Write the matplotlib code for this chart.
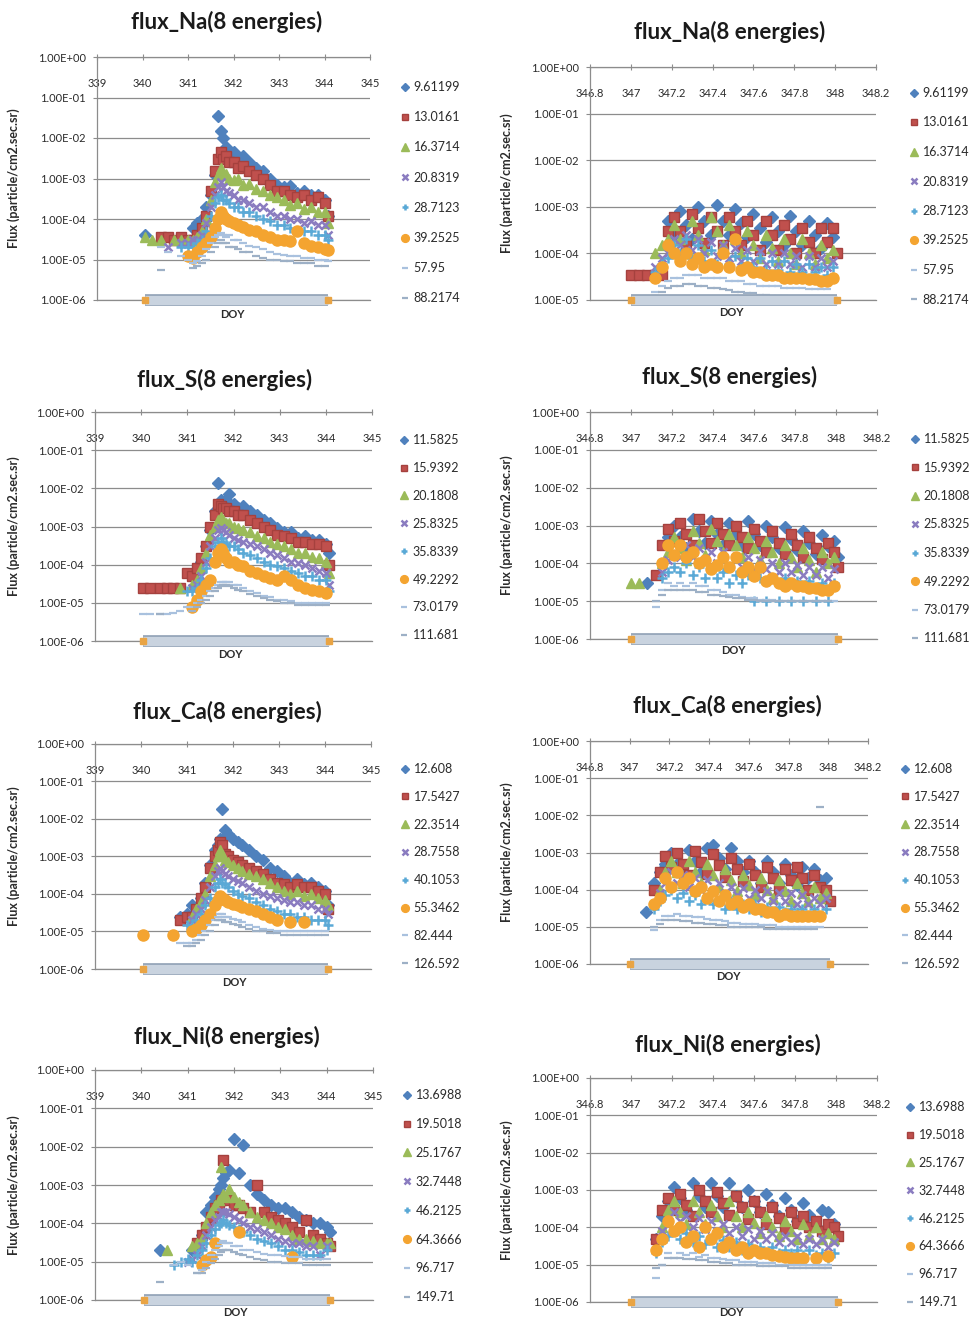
import numpy as np
import matplotlib
matplotlib.use("Agg")
import matplotlib.pyplot as plt
from matplotlib.ticker import FixedLocator, FuncFormatter, NullLocator

nan = float("nan")

# DOY sample times (left column: DOY 340-344, right column: DOY 347-348)
T_LEFT = [340.05, 340.2, 340.4, 340.55, 340.7, 340.85, 341.0, 341.1, 341.2, 341.3,
          341.4, 341.5, 341.6, 341.67, 341.72, 341.77, 341.83, 341.9, 342.0, 342.1,
          342.2, 342.35, 342.5, 342.65, 342.8, 342.95, 343.1, 343.25, 343.4, 343.55,
          343.7, 343.85, 344.0, 344.07]
T_RIGHT = [347.0, 347.04, 347.08, 347.12, 347.15, 347.18, 347.21, 347.24, 347.27, 347.3,
           347.33, 347.36, 347.39, 347.42, 347.45, 347.48, 347.51, 347.54, 347.57, 347.6,
           347.63, 347.66, 347.69, 347.72, 347.75, 347.78, 347.81, 347.84, 347.87, 347.9,
           347.93, 347.96, 347.99, 348.01]

XTICKS_LEFT = [339, 340, 341, 342, 343, 344, 345]
XTICKS_RIGHT = [346.8, 347.0, 347.2, 347.4, 347.6, 347.8, 348.0, 348.2]

NA_ENERGIES = ["9.61199", "13.0161", "16.3714", "20.8319", "28.7123", "39.2525", "57.95", "88.2174"]
S_ENERGIES = ["11.5825", "15.9392", "20.1808", "25.8325", "35.8339", "49.2292", "73.0179", "111.681"]
CA_ENERGIES = ["12.608", "17.5427", "22.3514", "28.7558", "40.1053", "55.3462", "82.444", "126.592"]
NI_ENERGIES = ["13.6988", "19.5018", "25.1767", "32.7448", "46.2125", "64.3666", "96.717", "149.71"]

# flux (particle/cm2.sec.sr), one list per energy channel
NA_LEFT = [
    [4e-5, nan, nan, nan, nan, nan, nan, 6e-5, 8e-5, 1e-4, 2e-4, 4e-4, 1.2e-3, 3.5e-2, 1.5e-2, 1e-2, 6e-3,
     4e-3, 4.5e-3, 3e-3, 3.5e-3, 2.5e-3, 1.8e-3, 1.5e-3, 1e-3, 7e-4, 6e-4, 6.5e-4, 4.5e-4, 5e-4, 4e-4, 4e-4, 3e-4, 1.2e-4],
    [nan, nan, 3.5e-5, 3.5e-5, 3e-5, 3.5e-5, 3e-5, 3e-5, 4e-5, 6e-5, 1.2e-4, 5e-4, 1.5e-3, 3e-3, 4.5e-3, 3e-3, 3.5e-3,
     2.5e-3, 2.5e-3, 1.8e-3, 2e-3, 1.5e-3, 1.2e-3, 1e-3, 7e-4, 5e-4, 5e-4, 4e-4, 3.5e-4, 4e-4, 3e-4, 3.5e-4, 2.5e-4, 1.2e-4],
    [3.5e-5, 3e-5, 3e-5, nan, 3e-5, 3e-5, 3e-5, 3e-5, 3.5e-5, 5e-5, 1e-4, 3e-4, 8e-4, 1.2e-3, 1.8e-3, 1.2e-3, 1.3e-3,
     1e-3, 9e-4, 1e-3, 7e-4, 7.5e-4, 5.5e-4, 5e-4, 4e-4, 3.5e-4, 3e-4, 2.2e-4, 2.5e-4, 1.8e-4, 2e-4, 1.5e-4, 1.5e-4, 8e-5],
    [nan, nan, nan, 2e-5, nan, 2.5e-5, 2.5e-5, 3e-5, 3e-5, 4e-5, 8e-5, 2e-4, 4e-4, 6e-4, 8e-4, 6e-4, 5e-4,
     4.5e-4, 4e-4, 3e-4, 3e-4, 2.5e-4, 2e-4, 2e-4, 1.5e-4, 1.2e-4, 1.2e-4, 1e-4, 1e-4, 8e-5, 9e-5, 7e-5, 7e-5, 4e-5],
    [nan, nan, nan, nan, nan, 2e-5, 2e-5, 2e-5, 2.5e-5, 3e-5, 5e-5, 1.2e-4, 2.5e-4, 3.5e-4, 4e-4, 3e-4, 3e-4,
     2.5e-4, 2e-4, 2e-4, 1.5e-4, 1.5e-4, 1.2e-4, 1e-4, 9e-5, 7e-5, 7e-5, 6e-5, 5e-5, 5e-5, 5e-5, 4e-5, 4e-5, 3e-5],
    [nan, nan, nan, nan, nan, nan, 1.2e-5, 1.1e-5, 1.5e-5, 2e-5, 2.5e-5, 3.5e-5, 6e-5, 1e-4, 1.5e-4, 1.2e-4, 1e-4,
     9e-5, 8e-5, 7e-5, 6.5e-5, 5.5e-5, 5e-5, 4e-5, 3.5e-5, 3e-5, 3e-5, 2.8e-5, 5e-5, 2.5e-5, 2.2e-5, 2e-5, 1.8e-5, 1.7e-5],
    [nan, nan, 2e-5, 1.5e-5, nan, 1.2e-5, 1e-5, 8e-6, 9e-6, 1.2e-5, 1.8e-5, 2.5e-5, 3.5e-5, 4e-5, 4.5e-5, 4e-5, 3.5e-5,
     4e-5, 3e-5, 3e-5, 2.5e-5, 2.2e-5, 2e-5, 1.8e-5, 1.5e-5, 1.4e-5, 1.3e-5, 1.2e-5, 1.2e-5, 1.1e-5, 1.1e-5, 1e-5, 1e-5, 9e-6],
    [nan, nan, 5.5e-6, nan, nan, nan, nan, 6e-6, 7e-6, 8e-6, 1e-5, 1.5e-5, 2e-5, 2.5e-5, 3e-5, 2.5e-5, 2.5e-5,
     2e-5, 2e-5, 1.8e-5, 1.5e-5, 1.5e-5, 1.2e-5, 1.1e-5, 1e-5, 1e-5, 9e-6, 9e-6, 8e-6, 8e-6, 8e-6, 7e-6, 7e-6, nan],
]

S_LEFT = [
    [nan, nan, nan, nan, nan, nan, nan, 5e-5, 7e-5, 1.2e-4, 3e-4, 8e-4, 2.5e-3, 1.4e-2, 5e-3, 4e-3, 5e-3,
     7e-3, 4e-3, 3e-3, 3.5e-3, 2.5e-3, 2e-3, 1.5e-3, 1.2e-3, 9e-4, 7e-4, 7e-4, 5e-4, 5.5e-4, 4.5e-4, 4.5e-4, 3.5e-4, 2e-4],
    [2.5e-5, 2.5e-5, 2.5e-5, 2.5e-5, 2.5e-5, 2.5e-5, 6e-5, 5e-5, 8e-5, 1.5e-4, 3e-4, 1e-3, 2e-3, 4e-3, 3.5e-3, 3e-3, 3e-3,
     2.5e-3, 2.5e-3, 2e-3, 2e-3, 1.5e-3, 1.2e-3, 1e-3, 8e-4, 6e-4, 5.5e-4, 5e-4, 4e-4, 4e-4, 3.5e-4, 3.5e-4, 3e-4, 1e-4],
    [nan, nan, nan, nan, nan, 2.5e-5, nan, 3e-5, 4e-5, 8e-5, 2e-4, 6e-4, 1e-3, 1.5e-3, 1.8e-3, 1.5e-3, 1.2e-3,
     1.2e-3, 1e-3, 9e-4, 8e-4, 7e-4, 5.5e-4, 5e-4, 4e-4, 3.5e-4, 3e-4, 2.5e-4, 2e-4, 2e-4, 1.6e-4, 1.5e-4, 1.2e-4, 6e-5],
    [nan, nan, nan, nan, nan, nan, nan, 2.5e-5, 3e-5, 5e-5, 1.2e-4, 3e-4, 5e-4, 8e-4, 9e-4, 8e-4, 7e-4,
     6e-4, 5e-4, 4.5e-4, 4e-4, 3.5e-4, 3e-4, 2.5e-4, 2e-4, 1.8e-4, 1.5e-4, 1.2e-4, 1.1e-4, 1e-4, 8e-5, 7e-5, 6e-5, 3e-5],
    [nan, nan, nan, nan, nan, nan, 2e-5, 2e-5, 2.5e-5, 4e-5, 8e-5, 1.5e-4, 3e-4, 4e-4, 5e-4, 4e-4, 3.5e-4,
     3e-4, 3e-4, 2.5e-4, 2e-4, 1.8e-4, 1.5e-4, 1.2e-4, 1e-4, 9e-5, 8e-5, 7e-5, 6e-5, 5e-5, 5e-5, 4e-5, 4e-5, 2e-5],
    [nan, nan, nan, nan, nan, nan, nan, 8e-6, 1.2e-5, 2e-5, 3e-5, 4e-5, 1.2e-4, 2e-4, 2.5e-4, 2e-4, 1.5e-4,
     1.2e-4, 1.2e-4, 1e-4, 9e-5, 7e-5, 6e-5, 5e-5, 4.5e-5, 4e-5, 5e-5, 4e-5, 3e-5, 2.5e-5, 2.2e-5, 2e-5, 1.8e-5, nan],
    [5e-6, 5e-6, 5e-6, 5e-6, 5.5e-6, 6e-6, 8e-6, 8e-6, 1e-5, 1.2e-5, 1.5e-5, 2e-5, 2.5e-5, 3e-5, 3.5e-5, 3.5e-5, 3.5e-5,
     3.5e-5, 3e-5, 3e-5, 2.5e-5, 2e-5, 1.8e-5, 1.5e-5, 1.4e-5, 1.2e-5, 1.2e-5, 1.1e-5, 1e-5, 1e-5, 1e-5, 1e-5, 1e-5, nan],
    [nan, nan, 5e-6, nan, nan, nan, nan, 6e-6, 8e-6, 1e-5, 1.2e-5, 1.5e-5, 2e-5, 2.5e-5, 2.8e-5, 3e-5, 3e-5,
     2.8e-5, 2.5e-5, 2.2e-5, 2e-5, 1.7e-5, 1.5e-5, 1.3e-5, 1.2e-5, 1.1e-5, 1e-5, 1e-5, 9e-6, 9e-6, 9e-6, 9e-6, 9e-6, nan],
]

CA_LEFT = [
    [nan, nan, nan, nan, nan, 2.5e-5, 3e-5, 5e-5, 4e-5, 8e-5, 2e-4, 6e-4, 1.5e-3, 2e-3, 3e-3, 1.8e-2, 5e-3,
     4e-3, 3e-3, 2.5e-3, 2e-3, 1.5e-3, 1e-3, 8e-4, 5e-4, 4e-4, 3e-4, 2e-4, 2.5e-4, 1.8e-4, 2e-4, 1.5e-4, 1.2e-4, 5e-5],
    [nan, nan, nan, nan, nan, 2e-5, 2.5e-5, 2.5e-5, 4e-5, 8e-5, 1.5e-4, 5e-4, 1e-3, 1.5e-3, 2.5e-3, 2e-3, 1.2e-3,
     1e-3, 8e-4, 7e-4, 6e-4, 5e-4, 4e-4, 3.5e-4, 2.5e-4, 2e-4, 1.8e-4, 1.5e-4, 1.8e-4, 1.5e-4, 1.5e-4, 1.2e-4, 1e-4, 4e-5],
    [nan, nan, nan, nan, nan, nan, nan, 2.5e-5, 4e-5, 6e-5, 1e-4, 3e-4, 6e-4, 1e-3, 1.5e-3, 1.2e-3, 8e-4,
     7e-4, 6e-4, 5e-4, 4e-4, 3.5e-4, 3e-4, 2.5e-4, 2e-4, 1.5e-4, 1.2e-4, 1e-4, 1.2e-4, 9e-5, 1e-4, 8e-5, 7e-5, 5e-5],
    [nan, nan, nan, nan, nan, nan, nan, 2e-5, 3e-5, 4e-5, 7e-5, 1.5e-4, 3e-4, 4e-4, 5e-4, 4e-4, 3.5e-4,
     3e-4, 2.5e-4, 2.2e-4, 2e-4, 1.5e-4, 1.2e-4, 1e-4, 9e-5, 8e-5, 7e-5, 6e-5, 6e-5, 5e-5, 5e-5, 4e-5, 4e-5, 3e-5],
    [nan, nan, nan, nan, nan, nan, 1.5e-5, 1.5e-5, 2e-5, 3e-5, 5e-5, 8e-5, 1.5e-4, 2e-4, 2.5e-4, 2e-4, 1.8e-4,
     1.5e-4, 1.2e-4, 1e-4, 9e-5, 8e-5, 6e-5, 5e-5, 4e-5, 3.5e-5, 3e-5, 3e-5, 2.5e-5, 2.5e-5, 2e-5, 2e-5, 2e-5, 1.5e-5],
    [8e-6, nan, nan, nan, 8e-6, nan, nan, 1e-5, 1.2e-5, 1.5e-5, 2e-5, 3e-5, 5e-5, 7e-5, 9e-5, 8e-5, 7e-5,
     6e-5, 5.5e-5, 5e-5, 4.5e-5, 4e-5, 3.5e-5, 3e-5, 2.5e-5, 2e-5, nan, 1.8e-5, nan, 1.8e-5, nan, nan, nan, nan],
    [nan, nan, nan, nan, nan, 5e-6, 5e-6, 5e-6, 6e-6, 8e-6, 1e-5, 1.5e-5, 2e-5, 2.5e-5, 3e-5, 3e-5, 2.5e-5,
     2.5e-5, 2.2e-5, 2e-5, 1.8e-5, 1.5e-5, 1.3e-5, 1.2e-5, 1.1e-5, 1e-5, 1e-5, 1e-5, 1e-5, 1e-5, 1e-5, 1e-5, 1e-5, nan],
    [nan, nan, nan, nan, nan, nan, 4e-6, 4e-6, 5e-6, 6e-6, 8e-6, 1e-5, 1.5e-5, 2e-5, 2e-5, 2e-5, 1.8e-5,
     1.8e-5, 1.6e-5, 1.5e-5, 1.3e-5, 1.2e-5, 1e-5, 1e-5, 9e-6, 9e-6, 8e-6, 8e-6, 8e-6, 8e-6, 8e-6, 8e-6, 8e-6, nan],
]

NI_LEFT = [
    [nan, nan, 2e-5, nan, nan, nan, nan, 2e-5, 2.5e-5, 5e-5, 2e-4, 3e-4, 5e-4, 8e-4, 1e-3, 1.5e-3, 2e-3,
     2.5e-3, 1.6e-2, 2e-3, 1.1e-2, 1e-3, 6e-4, 4e-4, 3e-4, 2.5e-4, 2.5e-4, 2e-4, 1.5e-4, 1.2e-4, 1e-4, 1e-4, 8e-5, 6e-5],
    [nan, nan, nan, nan, nan, nan, nan, nan, 3e-5, 5e-5, 8e-5, 1.5e-4, 2.5e-4, 3e-4, 4e-4, 4.5e-3, 5e-4,
     4e-4, 3e-4, 3e-4, 2.5e-4, 2e-4, 1e-3, 2e-4, 1.5e-4, 1.2e-4, 1e-4, 8e-5, 6e-5, 1.2e-4, 5e-5, 4e-5, 3e-5, 2.5e-5],
    [nan, nan, nan, 2e-5, nan, nan, nan, 2.5e-5, 3e-5, 4e-5, 1e-4, 2e-4, 3e-4, 4e-4, 3e-3, 6e-4, 5e-4,
     8e-4, 5e-4, 3.5e-4, 3e-4, 2e-4, 1.5e-4, 1.2e-4, 1e-4, 8e-5, 7e-5, 5e-5, 4e-5, 4e-5, 3.5e-5, 3e-5, 3e-5, 3e-5],
    [nan, nan, nan, nan, nan, nan, 1e-5, 1.2e-5, 1.5e-5, 2.5e-5, 5e-5, 8e-5, 1.2e-4, 1.5e-4, 2e-4, 2e-4, 2e-4,
     1.8e-4, 1.5e-4, 1.2e-4, 1e-4, 8e-5, 7e-5, 6e-5, 5e-5, 4e-5, 3.5e-5, 3e-5, 3e-5, 2.5e-5, 2.5e-5, 1.5e-5, 2.5e-5, nan],
    [nan, nan, nan, nan, 8e-6, 1e-5, 1.2e-5, 1e-5, 1.5e-5, 2e-5, 3e-5, 5e-5, 7e-5, 9e-5, 1e-4, 1.2e-4, 1e-4,
     9e-5, 8e-5, 7e-5, 6e-5, 5e-5, 4e-5, 3.5e-5, 3e-5, 2.5e-5, 2e-5, 2e-5, 1.8e-5, 1.5e-5, 1.5e-5, 1.5e-5, 2e-5, nan],
    [nan, nan, nan, nan, nan, nan, nan, nan, nan, 8e-6, 1.1e-5, 1.3e-5, 3e-5, nan, nan, nan, nan,
     nan, nan, 6e-5, nan, nan, nan, nan, nan, nan, nan, 1.3e-5, nan, nan, nan, nan, nan, nan],
    [nan, nan, nan, nan, 8e-6, 1e-5, 8e-6, nan, 5e-6, 6e-6, 1e-5, 1.5e-5, 2e-5, 2.5e-5, 3e-5, 3.5e-5, 3e-5,
     3e-5, 2.5e-5, 2.5e-5, 2e-5, 2e-5, 1.8e-5, 1.6e-5, 1.5e-5, 1.5e-5, 1.4e-5, 1.3e-5, 1.3e-5, 1.2e-5, 1.2e-5, 1.2e-5, 1.2e-5, nan],
    [nan, nan, 3e-6, nan, nan, nan, nan, nan, 5e-6, 5e-6, 7e-6, 9e-6, 1.2e-5, 1.5e-5, 1.8e-5, 2e-5, 2e-5,
     2e-5, 1.8e-5, 1.6e-5, 1.5e-5, 1.3e-5, 1.2e-5, 1.1e-5, 1e-5, 1e-5, 9e-6, 9e-6, 9e-6, 8e-6, 8e-6, 8e-6, 8e-6, nan],
]

NA_RIGHT = [
    [nan, nan, nan, nan, nan, 5e-4, 2.5e-4, 8e-4, 4e-4, 2e-4, 1e-3, 5e-4, 2.5e-4, 1.1e-3, 5e-4, 2.5e-4, 9e-4,
     4.5e-4, 2.2e-4, 7e-4, 3.5e-4, 1.8e-4, 6e-4, 3e-4, 1.5e-4, 6.5e-4, 3e-4, 1.5e-4, 5e-4, 2.5e-4, 1.3e-4, 4.5e-4, 2.2e-4, nan],
    [3.5e-5, 3.5e-5, 3.5e-5, 3.5e-5, 3.5e-5, 3e-4, 6e-4, 3e-4, 1.5e-4, 7e-4, 3.5e-4, 1.7e-4, 6e-4, 3e-4, 1.5e-4, 6e-4, 3e-4,
     1.5e-4, 5e-4, 2.5e-4, 1.2e-4, 5e-4, 2.5e-4, 1.2e-4, 4e-4, 2e-4, 1e-4, 3.5e-4, 1.8e-4, 1e-4, 3.5e-4, 1.8e-4, 3.5e-4, 1e-4],
    [nan, nan, nan, 1e-4, 1.5e-4, 2e-4, 4e-4, 2e-4, 1e-4, 5e-4, 2.5e-4, 1.2e-4, 6e-4, 3e-4, 1.5e-4, 4e-4, 2e-4,
     1e-4, 3e-4, 1.5e-4, 8e-5, 2.5e-4, 1.3e-4, 7e-5, 2e-4, 1e-4, 6e-5, 2e-4, 1e-4, 6e-5, 1.5e-4, 8e-5, 1.2e-4, nan],
    [nan, nan, nan, 5e-5, 8e-5, 1e-4, 2e-4, 1.5e-4, 2.5e-4, 1.2e-4, 2e-4, 1e-4, 1.8e-4, 9e-5, 1.5e-4, 8e-5, 1.3e-4,
     7e-5, 1.2e-4, 7e-5, 1.1e-4, 6e-5, 1e-4, 6e-5, 1e-4, 6e-5, 9e-5, 5e-5, 9e-5, 5e-5, 8e-5, 5e-5, 7e-5, nan],
    [nan, nan, nan, 4e-5, 6e-5, 8e-5, 1.5e-4, 1e-4, 2e-4, 8e-5, 1.5e-4, 7e-5, 1.2e-4, 6e-5, 1e-4, 6e-5, 9e-5,
     5e-5, 8e-5, 5e-5, 8e-5, 4.5e-5, 7e-5, 4.5e-5, 7e-5, 4e-5, 6e-5, 4e-5, 6e-5, 4e-5, 5e-5, 3.5e-5, 5e-5, nan],
    [nan, nan, nan, 3e-5, 5e-5, 1.5e-4, 1e-4, 7e-5, 1e-4, 6e-5, 8e-5, 5e-5, 6e-5, 5e-5, 1e-4, 5e-5, 2e-4,
     4.5e-5, 5e-5, 4e-5, 4e-5, 3.5e-5, 3.5e-5, 3.5e-5, 3e-5, 3e-5, 3e-5, 3e-5, 2.8e-5, 2.8e-5, 2.5e-5, 2.5e-5, 3e-5, nan],
    [nan, nan, nan, 1.5e-5, 2e-5, 2.5e-5, 3e-5, 3e-5, 3.5e-5, 3.5e-5, 3.5e-5, 3e-5, 3e-5, 3e-5, 3e-5, 2.5e-5, 2.5e-5,
     2.5e-5, 2.2e-5, 2.2e-5, 2e-5, 2e-5, 2e-5, 2e-5, 1.8e-5, 1.8e-5, 1.8e-5, 1.8e-5, 1.7e-5, 1.7e-5, 1.7e-5, 1.7e-5, nan, nan],
    [nan, nan, nan, 1.2e-5, 1.5e-5, 1.8e-5, 2e-5, 2e-5, 2.2e-5, 2.2e-5, 2e-5, 2e-5, 1.8e-5, 1.8e-5, 1.7e-5, 1.6e-5, 1.5e-5,
     1.5e-5, 1.4e-5, 1.4e-5, 1.3e-5, 1.3e-5, 1.2e-5, 1.2e-5, 1.2e-5, 1.1e-5, 1.1e-5, 1.1e-5, 1.1e-5, 1.1e-5, 1e-5, 1e-5, nan, nan],
]

S_RIGHT = [
    [nan, nan, 3e-5, nan, nan, 5e-4, 1e-3, 5e-4, 2.5e-4, 1.5e-3, 7e-4, 3.5e-4, 1.3e-3, 6e-4, 3e-4, 1.2e-3, 6e-4,
     3e-4, 1.3e-3, 6e-4, 3e-4, 1e-3, 5e-4, 2.5e-4, 9e-4, 4.5e-4, 2.2e-4, 7e-4, 3.5e-4, 1.8e-4, 5.5e-4, 2.8e-4, 4e-4, 1.5e-4],
    [nan, nan, nan, 5e-5, 3e-4, 8e-4, 4e-4, 1.2e-3, 6e-4, 3e-4, 1.5e-3, 7e-4, 3.5e-4, 1.2e-3, 6e-4, 3e-4, 1e-3,
     5e-4, 2.5e-4, 8e-4, 4e-4, 2e-4, 7e-4, 3.5e-4, 1.8e-4, 6e-4, 3e-4, 1.5e-4, 5e-4, 2.5e-4, 1.3e-4, 3.5e-4, 2e-4, 8e-5],
    [3e-5, 3e-5, nan, nan, 1e-4, 2e-4, 5e-4, 2.5e-4, 1.2e-4, 7e-4, 3.5e-4, 1.7e-4, 8e-4, 4e-4, 2e-4, 6e-4, 3e-4,
     1.5e-4, 5e-4, 2.5e-4, 1.2e-4, 4e-4, 2e-4, 1e-4, 3e-4, 1.5e-4, 8e-5, 2.5e-4, 1.2e-4, 6e-5, 2e-4, 1e-4, 1.5e-4, nan],
    [nan, nan, nan, nan, 6e-5, 1.2e-4, 2e-4, 1.5e-4, 3e-4, 1.5e-4, 2.5e-4, 1.2e-4, 2e-4, 1e-4, 2e-4, 9e-5, 1.5e-4,
     8e-5, 1.5e-4, 7e-5, 1.2e-4, 7e-5, 1e-4, 6e-5, 1e-4, 6e-5, 9e-5, 5e-5, 8e-5, 5e-5, 8e-5, 4e-5, 7e-5, nan],
    [nan, nan, nan, nan, 4e-5, 6e-5, 8e-5, 6e-5, 1e-4, 5e-5, 8e-5, 4e-5, 7e-5, 4e-5, 6e-5, 3e-5, 5e-5,
     3e-5, 5e-5, 1e-5, 4e-5, 1e-5, 4e-5, 1e-5, 4e-5, 1e-5, 3.5e-5, 1e-5, 3.5e-5, 1e-5, 3e-5, 1e-5, 3e-5, nan],
    [nan, nan, nan, nan, 1e-4, 3e-4, 1.7e-4, 3e-4, 1.5e-4, 2e-4, 1e-4, 1.2e-4, 7e-5, 9e-5, 1.5e-4, 8e-5, 1.5e-4,
     6e-5, 8e-5, 4.5e-5, 8e-5, 3.5e-5, 4e-5, 3e-5, 2.5e-5, 3e-5, 2.5e-5, 2.5e-5, 2.2e-5, 2.2e-5, 2e-5, 2e-5, 2.5e-5, nan],
    [nan, nan, nan, 7e-6, 2e-5, 3e-5, 2.5e-5, 3e-5, 2.5e-5, 3e-5, 2.5e-5, 2.5e-5, 2e-5, 2e-5, 1.8e-5, 1.5e-5, 1.5e-5,
     1.3e-5, 1.2e-5, 1.2e-5, 1.1e-5, 1.1e-5, 1.1e-5, 1e-5, 1e-5, 1e-5, 1e-5, 1e-5, 1e-5, 1e-5, 1e-5, 1e-5, 1e-5, nan],
    [nan, nan, nan, 1e-5, 1.5e-5, 2e-5, 2e-5, 2e-5, 2e-5, 2e-5, 1.8e-5, 1.8e-5, 1.5e-5, 1.5e-5, 1.4e-5, 1.3e-5, 1.2e-5,
     1.2e-5, 1.1e-5, 1.1e-5, 1e-5, 1e-5, 1e-5, 1e-5, 1e-5, 1e-5, 1e-5, 1e-5, 1e-5, 1e-5, 1e-5, 1e-5, nan, nan],
]

CA_RIGHT = [
    [nan, nan, 2.5e-5, 1.5e-4, 3e-4, 5e-4, 1e-3, 5e-4, 2.5e-4, 1.2e-3, 6e-4, 3e-4, 1.3e-3, 1.6e-3, 7e-4, 3.5e-4, 1.3e-3,
     6e-4, 3e-4, 6e-4, 3e-4, 1.5e-4, 6e-4, 3e-4, 1.5e-4, 5e-4, 2.5e-4, 1.3e-4, 4e-4, 2e-4, 3.5e-4, 1.8e-4, 2e-4, nan],
    [nan, nan, nan, 1e-4, 3e-4, 8e-4, 4e-4, 1e-3, 5e-4, 2.5e-4, 1.1e-3, 5.5e-4, 2.7e-4, 9e-4, 4.5e-4, 2.2e-4, 7e-4,
     3.5e-4, 1.7e-4, 5e-4, 2.5e-4, 1.2e-4, 4e-4, 2e-4, 1e-4, 3.5e-4, 1.8e-4, 4e-4, 2e-4, 1e-4, 2.5e-4, 1.2e-4, 1e-4, 5e-5],
    [nan, nan, nan, nan, 1e-4, 3e-4, 6e-4, 3e-4, 1.5e-4, 6e-4, 3e-4, 1.5e-4, 5e-4, 2.5e-4, 1.2e-4, 3.5e-4, 1.8e-4,
     9e-5, 2.5e-4, 1.3e-4, 7e-5, 2e-4, 1e-4, 6e-5, 1.8e-4, 9e-5, 5e-5, 1.5e-4, 8e-5, 5e-5, 1.2e-4, 6e-5, 8e-5, nan],
    [nan, nan, nan, nan, 8e-5, 1.5e-4, 3e-4, 1.5e-4, 2.5e-4, 1.2e-4, 2e-4, 1e-4, 1.8e-4, 9e-5, 1.5e-4, 8e-5, 1.2e-4,
     7e-5, 1.1e-4, 6e-5, 1e-4, 6e-5, 9e-5, 5e-5, 8e-5, 5e-5, 8e-5, 4e-5, 7e-5, 4e-5, 6e-5, 4e-5, 6e-5, nan],
    [nan, nan, nan, 3e-5, 5e-5, 7e-5, 1e-4, 6e-5, 8e-5, 5e-5, 7e-5, 4e-5, 6e-5, 4e-5, 5e-5, 3e-5, 5e-5,
     3e-5, 4e-5, 3e-5, 4e-5, 2.5e-5, 3.5e-5, 2.5e-5, 3.5e-5, 2.5e-5, 3e-5, 2.5e-5, 3e-5, 2e-5, 3e-5, 2e-5, 3e-5, nan],
    [nan, nan, nan, 4e-5, 6e-5, 2e-4, 1.2e-4, 3e-4, 1.5e-4, 2e-4, 9e-5, 1.2e-4, 6e-5, 9e-5, 5e-5, 7e-5, 4e-5,
     5e-5, 3.5e-5, 4e-5, 3e-5, 3e-5, 2.5e-5, 2.5e-5, 2e-5, 2.2e-5, 2e-5, 2e-5, 2e-5, 2e-5, 2e-5, 2e-5, nan, nan],
    [nan, nan, nan, 8e-6, 1.5e-5, 2e-5, 2e-5, 2.2e-5, 2e-5, 2e-5, 1.8e-5, 1.8e-5, 1.6e-5, 1.5e-5, 1.5e-5, 1.4e-5, 1.3e-5,
     1.3e-5, 1.2e-5, 1.2e-5, 1.2e-5, 1.1e-5, 1.1e-5, 1.1e-5, 1e-5, 1e-5, 1e-5, 1e-5, 1e-5, 1e-5, 1e-5, 1e-5, nan, nan],
    [nan, nan, nan, 1e-5, 1.2e-5, 1.5e-5, 1.5e-5, 1.5e-5, 1.4e-5, 1.4e-5, 1.3e-5, 1.3e-5, 1.2e-5, 1.2e-5, 1.1e-5, 1.1e-5, 1e-5,
     1e-5, 1e-5, 1e-5, 1e-5, 1e-5, 9e-6, 9e-6, 9e-6, 9e-6, 9e-6, 9e-6, 9e-6, 9e-6, 9e-6, 1.7e-2, nan, nan],
]

NI_RIGHT = [
    [nan, nan, nan, 5e-5, 2e-4, 5e-4, 1.2e-3, 6e-4, 3e-4, 1.5e-3, 7e-4, 3.5e-4, 1.5e-3, 7e-4, 3.5e-4, 1.5e-3, 7e-4,
     3.5e-4, 1e-3, 5e-4, 2.5e-4, 8e-4, 4e-4, 2e-4, 6e-4, 3e-4, 1.5e-4, 4.5e-4, 2.2e-4, 1.1e-4, 3e-4, 2.5e-4, 1.2e-4, nan],
    [nan, nan, nan, 5e-5, 3e-4, 6e-4, 3e-4, 8e-4, 4e-4, 2e-4, 1e-3, 5e-4, 2.5e-4, 9e-4, 4.5e-4, 2.2e-4, 7e-4,
     3.5e-4, 1.7e-4, 5e-4, 2.5e-4, 1.2e-4, 3.5e-4, 1.8e-4, 9e-5, 2.5e-4, 1.3e-4, 2e-4, 1e-4, 1.5e-4, 8e-5, 1.2e-4, 1e-4, 6e-5],
    [nan, nan, nan, nan, 1e-4, 3e-4, 5e-4, 2.5e-4, 1.2e-4, 5e-4, 2.5e-4, 1.2e-4, 4e-4, 2e-4, 1e-4, 5e-4, 2e-4,
     1e-4, 2.5e-4, 1.3e-4, 7e-5, 2e-4, 1e-4, 6e-5, 1.5e-4, 8e-5, 5e-5, 1.2e-4, 6e-5, 1e-4, 5e-5, 7e-5, 5e-5, nan],
    [nan, nan, nan, nan, 8e-5, 1.5e-4, 2.5e-4, 1.5e-4, 2e-4, 1e-4, 1.8e-4, 9e-5, 1.5e-4, 8e-5, 1.2e-4, 7e-5, 1e-4,
     6e-5, 9e-5, 5e-5, 8e-5, 5e-5, 7e-5, 4e-5, 6e-5, 4e-5, 6e-5, 3.5e-5, 5e-5, 3.5e-5, 5e-5, 3e-5, 4e-5, nan],
    [nan, nan, nan, 2e-5, 4e-5, 6e-5, 8e-5, 5e-5, 7e-5, 4e-5, 6e-5, 3.5e-5, 5e-5, 3e-5, 4.5e-5, 3e-5, 4e-5,
     2.5e-5, 3.5e-5, 2.5e-5, 3e-5, 2e-5, 3e-5, 2e-5, 2.5e-5, 2e-5, 2.5e-5, 1.8e-5, 2.5e-5, 1.8e-5, 2e-5, 1.5e-5, 2e-5, nan],
    [nan, nan, nan, 2.5e-5, 5e-5, 1.5e-4, 8e-5, 1e-4, 4e-5, 6e-5, 3e-5, 1e-4, 5e-5, 7e-5, 3e-5, 4e-5, 2.5e-5,
     3e-5, 2e-5, 2.5e-5, 2e-5, 2e-5, 1.8e-5, 1.7e-5, 1.6e-5, 1.5e-5, 1.5e-5, 1.5e-5, nan, 1.5e-5, nan, 1.7e-5, nan, nan],
    [nan, nan, nan, 4.5e-6, 1e-5, 2e-5, 1.5e-5, 2e-5, 1.8e-5, 2e-5, 1.6e-5, 1.8e-5, 1.5e-5, 1.5e-5, 1.4e-5, 1.3e-5, 1.3e-5,
     1.2e-5, 1.2e-5, 1.2e-5, 1.1e-5, 1.1e-5, 1.1e-5, 1e-5, 1e-5, 1e-5, 1e-5, 1e-5, 1e-5, 1e-5, 1e-5, 1e-5, nan, nan],
    [nan, nan, nan, 8e-6, 1e-5, 1.5e-5, 1.5e-5, 1.5e-5, 1.4e-5, 1.4e-5, 1.3e-5, 1.3e-5, 1.2e-5, 1.2e-5, 1.1e-5, 1.1e-5, 1e-5,
     1e-5, 1e-5, 1e-5, 9e-6, 9e-6, 9e-6, 9e-6, 9e-6, 8e-6, 8e-6, 8e-6, 8e-6, 8e-6, 8e-6, 8e-6, nan, nan],
]

# Excel-like marker styles for the 8 energy channels
MARKERS = ["D", "s", "^", "x", "+", "o", "_", "_"]
SIZES = [6.5, 7.0, 7.5, 6.0, 6.5, 8.0, 6.0, 6.0]
WIDTHS = [1.0, 1.0, 1.0, 1.8, 1.8, 1.0, 1.6, 1.6]
FACES = ["#4f81bd", "#c0504d", "#9bbb59", "#8a7cc0", "#5aa9d6", "#f4a430", "#a9c1de", "#9db0c6"]
EDGES = ["#4f81bd", "#a5413e", "#9bbb59", "#8a7cc0", "#5aa9d6", "#f4a430", "#a9c1de", "#9db0c6"]
GRID = "#8c8c8c"
TEXT = "#2b2b2b"

W, H = 979, 1322
plt.rcParams["font.family"] = ["Lato", "DejaVu Sans"]
fig = plt.figure(figsize=(W / 100, H / 100), dpi=100)

# (title, energies, times, flux, axes box px (l, t, r, b), ymin, xticks,
#  title xy, DOY xy, ylabel x, legend first-marker xy, legend row gap)
PANELS = [
    ("flux_Na(8 energies)", NA_ENERGIES, T_LEFT, NA_LEFT, (97, 57, 370, 300), 1e-6, XTICKS_LEFT,
     (227, 22), (232, 315), 14, (405, 88), 29.7),
    ("flux_Na(8 energies)", NA_ENERGIES, T_RIGHT, NA_RIGHT, (590, 67, 876, 300), 1e-5, XTICKS_RIGHT,
     (730, 32), (731, 313), 507, (914, 94), 29.0),
    ("flux_S(8 energies)", S_ENERGIES, T_LEFT, S_LEFT, (95, 412, 372, 641), 1e-6, XTICKS_LEFT,
     (225, 380), (230, 655), 14, (404, 441), 27.4),
    ("flux_S(8 energies)", S_ENERGIES, T_RIGHT, S_RIGHT, (590, 412, 877, 639), 1e-6, XTICKS_RIGHT,
     (730, 377), (733, 651), 507, (915, 440), 28.0),
    ("flux_Ca(8 energies)", CA_ENERGIES, T_LEFT, CA_LEFT, (95, 744, 371, 969), 1e-6, XTICKS_LEFT,
     (227, 712), (234, 982), 14, (405, 770), 27.3),
    ("flux_Ca(8 energies)", CA_ENERGIES, T_RIGHT, CA_RIGHT, (590, 741, 868, 964), 1e-6, XTICKS_RIGHT,
     (727, 706), (728, 976), 507, (905, 770), 27.3),
    ("flux_Ni(8 energies)", NI_ENERGIES, T_LEFT, NI_LEFT, (95, 1070, 373, 1300), 1e-6, XTICKS_LEFT,
     (227, 1037), (235, 1313), 14, (407, 1096), 28.4),
    ("flux_Ni(8 energies)", NI_ENERGIES, T_RIGHT, NI_RIGHT, (590, 1078, 877, 1302), 1e-6, XTICKS_RIGHT,
     (728, 1045), (731, 1313), 507, (910, 1108), 27.4),
]

LEG_FS = 9

for (title, energies, times, flux, box, ymin, xticks,
     title_xy, doy_xy, ylab_x, leg_xy, leg_gap) in PANELS:
    l, t, r, b = box
    ax = fig.add_axes([l / W, 1 - b / H, (r - l) / W, (b - t) / H])
    tt = np.array(times)

    handles = []
    for k, series in enumerate(flux):
        y = np.array(series, dtype=float)
        if len(y) != len(tt):
            raise ValueError(f"{title} series {k}: {len(y)} values for {len(tt)} times")
        h, = ax.plot(tt, y, linestyle="none", marker=MARKERS[k], ms=SIZES[k],
                     mfc=FACES[k], mec=EDGES[k], mew=WIDTHS[k], label=energies[k],
                     zorder=3 + 0.1 * k, clip_on=False)
        handles.append(h)

    # bar of the (empty) bottom series along the floor of the axis
    ax.plot([tt.min(), tt.max()], [ymin, ymin], color="#98a8bb", lw=8.5,
            solid_capstyle="butt", zorder=4, clip_on=False)
    ax.plot([tt.min(), tt.max()], [ymin, ymin], color="#c9d3df", lw=6.5,
            solid_capstyle="butt", zorder=4.1, clip_on=False)
    ax.plot([tt.min(), tt.max()], [ymin, ymin], "s", ms=4, color="#e9a444",
            zorder=4.2, clip_on=False)

    ax.set_yscale("log")
    ax.set_ylim(ymin, 1.0)
    ax.set_xlim(xticks[0], xticks[-1])
    ax.yaxis.set_major_locator(FixedLocator([10.0 ** e for e in range(int(round(np.log10(ymin))), 1)]))
    ax.yaxis.set_minor_locator(NullLocator())
    ax.yaxis.set_major_formatter(FuncFormatter(lambda v, p: f"{v:.2E}"))
    ax.xaxis.set_major_locator(FixedLocator(xticks))
    ax.xaxis.set_minor_locator(NullLocator())
    ax.xaxis.set_major_formatter(FuncFormatter(lambda v, p: f"{v:g}"))

    ax.yaxis.grid(True, color=GRID, lw=0.9)
    ax.set_axisbelow(True)
    for side in ("top", "left", "bottom"):
        ax.spines[side].set_color(GRID)
        ax.spines[side].set_linewidth(0.9)
    ax.spines["right"].set_visible(False)

    ax.tick_params(axis="x", top=True, bottom=False, labeltop=True, labelbottom=False,
                   direction="inout", length=5, color=GRID, pad=-25.5, labelsize=8,
                   labelcolor=TEXT)
    ax.tick_params(axis="y", direction="out", length=3, color=GRID, pad=5,
                   labelsize=8, labelcolor=TEXT)

    fig.text(title_xy[0] / W, 1 - title_xy[1] / H, title, ha="center", va="center",
             fontsize=16, fontweight="bold", color="#1a1a1a")
    fig.text(doy_xy[0] / W, 1 - doy_xy[1] / H, "DOY", ha="center", va="center",
             fontsize=8, fontweight="bold", color=TEXT)
    fig.text(ylab_x / W, 1 - ((t + b) / 2) / H, "Flux (particle/cm2.sec.sr)", rotation=90,
             ha="center", va="center", fontsize=9, fontweight="bold", color=TEXT)

    fs_px = LEG_FS * 100 / 72
    ax.legend(handles, energies, loc="upper left",
              bbox_to_anchor=((leg_xy[0] - 5) / W, 1 - (leg_xy[1] - 7) / H),
              bbox_transform=fig.transFigure, frameon=False, fontsize=LEG_FS,
              labelspacing=(leg_gap - 0.92 * fs_px) / fs_px, handlelength=0.8,
              handletextpad=0.3, borderpad=0, borderaxespad=0, numpoints=1,
              markerscale=0.7, labelcolor=TEXT)

fig.savefig("out.png", dpi=100)
